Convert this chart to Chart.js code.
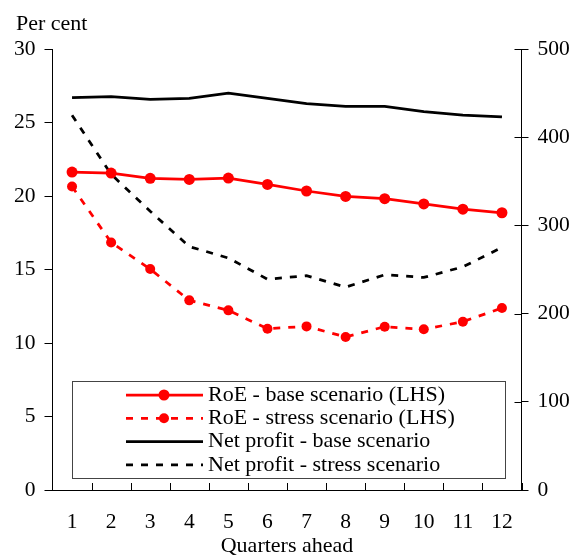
<!DOCTYPE html>
<html>
<head>
<meta charset="utf-8">
<script src="https://cdn.jsdelivr.net/npm/chart.js@4.4.0/dist/chart.umd.min.js"></script>
<style>
	html, body { margin: 0; padding: 0; background: #fff; }
	#wrap { width: 578px; height: 559px; }
</style>
</head>
<body>
<div id="wrap"><canvas id="chart" width="578" height="559"></canvas></div>
<script>

// chart values
const quarters = ['1', '2', '3', '4', '5', '6', '7', '8', '9', '10', '11', '12'];
const roeBase = [21.63, 21.56, 21.2, 21.13, 21.22, 20.79, 20.34, 19.97, 19.82, 19.46, 19.1, 18.86];
const roeStress = [20.65, 16.84, 15.03, 12.9, 12.22, 10.97, 11.13, 10.41, 11.11, 10.93, 11.45, 12.38];
const profitBase = [445, 446, 443, 444, 450, 444, 438, 435, 435, 429, 425, 423];
const profitStress = [425, 358, 316, 276, 263, 239, 243, 230, 244, 241, 253, 275];
const leftTicks = [0, 5, 10, 15, 20, 25, 30];
const rightTicks = [0, 100, 200, 300, 400, 500];

const serif = "'Liberation Serif', 'Times New Roman', serif";
const dash = [7, 8];

// "Per cent" label, inner ticks and the boxed legend
const extras = {
	id: 'extras',
	afterDraw(chart) {
		const ctx = chart.ctx;
		const area = chart.chartArea;
		ctx.save();

		ctx.fillStyle = '#000';
		ctx.font = '22px ' + serif;
		ctx.textBaseline = 'middle';
		ctx.textAlign = 'left';
		ctx.fillText('Per cent', 16, 24);

		// x ticks between the quarters, pointing up
		ctx.strokeStyle = '#000';
		ctx.lineWidth = 1;
		const n = quarters.length;
		for (let i = 1; i <= n; i++) {
			const x = Math.round(area.left + i * (area.right - area.left) / n) + 0.5;
			ctx.beginPath();
			ctx.moveTo(x, area.bottom);
			ctx.lineTo(x, area.bottom - 7);
			ctx.stroke();
		}

		// right axis ticks also reach inside
		const y1 = chart.scales.y1;
		y1.ticks.forEach(function(t){
			const y = Math.round(y1.getPixelForValue(t.value)) + 0.5;
			ctx.beginPath();
			ctx.moveTo(area.right - 7, y);
			ctx.lineTo(area.right, y);
			ctx.stroke();
		});

		// legend box
		const bx = 72, by = 381, bw = 433, bh = 97;
		ctx.fillStyle = '#fff';
		ctx.fillRect(bx, by, bw, bh);
		ctx.strokeStyle = '#444';
		ctx.lineWidth = 1;
		ctx.strokeRect(bx + 0.5, by + 0.5, bw, bh);

		chart.data.datasets.forEach(function(ds, i){
			const y = 395 + i * 23.3;
			ctx.strokeStyle = ds.borderColor;
			ctx.lineWidth = ds.borderWidth;
			ctx.setLineDash(ds.borderDash || []);
			ctx.beginPath();
			ctx.moveTo(126, y);
			ctx.lineTo(203, y);
			ctx.stroke();
			ctx.setLineDash([]);
			if (ds.pointRadius > 0) {
				ctx.fillStyle = ds.pointBackgroundColor;
				ctx.beginPath();
				ctx.arc(164, y, ds.pointRadius, 0, Math.PI * 2);
				ctx.fill();
			}
			ctx.fillStyle = '#000';
			ctx.font = '22px ' + serif;
			ctx.fillText(ds.label, 208, y);
		});

		ctx.restore();
	}
};

let ctx = document.getElementById('chart').getContext('2d');
let chart = new Chart(ctx, {
	type: 'line',
	data: {
		labels: quarters,
		datasets: [{
			label: 'RoE - base scenario (LHS)',
			data: roeBase,
			yAxisID: 'y',
			borderColor: '#ff0000',
			backgroundColor: '#ff0000',
			pointBackgroundColor: '#ff0000',
			borderWidth: 2.75,
			pointRadius: 5.5,
			pointBorderWidth: 0
		}, {
			label: 'RoE - stress scenario (LHS)',
			data: roeStress,
			yAxisID: 'y',
			borderColor: '#ff0000',
			backgroundColor: '#ff0000',
			pointBackgroundColor: '#ff0000',
			borderWidth: 2.75,
			borderDash: dash,
			pointRadius: 5,
			pointBorderWidth: 0
		}, {
			label: 'Net profit - base scenario',
			data: profitBase,
			yAxisID: 'y1',
			borderColor: '#000',
			backgroundColor: '#000',
			borderWidth: 2.75,
			pointRadius: 0
		}, {
			label: 'Net profit - stress scenario',
			data: profitStress,
			yAxisID: 'y1',
			borderColor: '#000',
			backgroundColor: '#000',
			borderWidth: 2.75,
			borderDash: dash,
			pointRadius: 0
		}]
	},
	options: {
		responsive: false,
		animation: false,
		layout: { padding: { top: 49, left: 0, right: 0, bottom: 0 } },
		plugins: {
			legend: { display: false },
			tooltip: { enabled: false }
		},
		scales: {
			x: {
				offset: true,
				grid: { display: true, drawOnChartArea: false, drawTicks: false },
				border: { color: '#000', width: 1 },
				ticks: { color: '#000', font: { family: serif, size: 21.5 }, padding: 19, maxRotation: 0 },
				title: { display: true, text: 'Quarters ahead', color: '#000', font: { family: serif, size: 22 }, padding: 0 },
				afterFit(scale) { scale.height = 69; }
			},
			y: {
				position: 'left',
				min: leftTicks[0],
				max: leftTicks[leftTicks.length - 1],
				afterBuildTicks(scale) { scale.ticks = leftTicks.map(v => ({ value: v })); },
				grid: { drawOnChartArea: false, color: '#000', tickLength: 8 },
				border: { color: '#000', width: 1 },
				ticks: { color: '#000', font: { family: serif, size: 21.5 }, padding: 9 },
				afterFit(scale) { scale.width = 52.5; }
			},
			y1: {
				position: 'right',
				min: rightTicks[0],
				max: rightTicks[rightTicks.length - 1],
				afterBuildTicks(scale) { scale.ticks = rightTicks.map(v => ({ value: v })); },
				grid: { drawOnChartArea: false, color: '#000', tickLength: 7 },
				border: { color: '#000', width: 1 },
				ticks: { color: '#000', font: { family: serif, size: 21.5 }, padding: 9 },
				afterFit(scale) { scale.width = 56.5; }
			}
		}
	},
	plugins: [extras]
});

</script>
</body>
</html>
